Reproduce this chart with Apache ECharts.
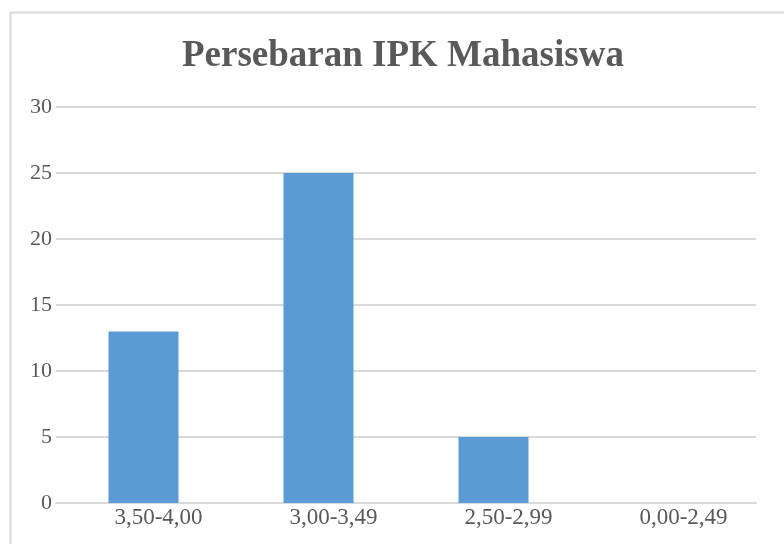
<!DOCTYPE html>
<html>
<head>
<meta charset="utf-8">
<script src="https://cdn.jsdelivr.net/npm/echarts@6/dist/echarts.min.js"></script>
<style>
  html, body { margin: 0; padding: 0; background: #fff; }
  #chart { width: 784px; height: 544px; }
</style>
</head>
<body>
<div id="chart"></div>
<script>
// kategori IPK dan jumlah mahasiswa
var categories = ['3,50-4,00', '3,00-3,49', '2,50-2,99', '0,00-2,49'];
var counts = [13, 25, 5, 0];
var yTicks = [0, 5, 10, 15, 20, 25, 30];

var chart = echarts.init(document.getElementById('chart'));

var serif = '"Liberation Serif", "Times New Roman", serif';

var option = {
	backgroundColor: '#fff',
	animation: false,
	title: {
		text: 'Persebaran IPK Mahasiswa',
		left: 177,
		top: 33,
		textStyle: {
			fontFamily: serif,
			fontWeight: 'bold',
			fontSize: 37,
			color: '#595959'
		}
	},
	graphic: [{
		// bingkai abu-abu di sekeliling chart
		type: 'rect',
		shape: { x: 10.5, y: 12.5, width: 900, height: 700 },
		style: { fill: 'none', stroke: '#d9d9d9', lineWidth: 2 }
	}],
	grid: {
		left: 56,
		right: 28,
		top: 107,
		bottom: 41
	},
	xAxis: {
		type: 'category',
		data: categories,
		axisTick: { show: false },
		axisLine: { lineStyle: { color: '#d9d9d9', width: 2 } },
		axisLabel: {
			fontFamily: serif,
			fontSize: 23,
			color: '#595959',
			margin: 3,
			padding: [0, 0, 0, 30]
		}
	},
	yAxis: {
		type: 'value',
		min: 0,
		max: 30,
		interval: 5,
		axisLine: { show: false },
		axisTick: { show: false },
		axisLabel: {
			fontFamily: serif,
			fontSize: 22,
			color: '#595959',
			margin: 4,
			formatter: function (v) { return yTicks.indexOf(v) >= 0 ? v : ''; }
		},
		splitLine: { lineStyle: { color: '#d9d9d9', width: 2 } }
	},
	series: [{
		type: 'bar',
		data: counts,
		barWidth: '40%',
		itemStyle: { color: '#5b9bd5' }
	}]
};

chart.setOption(option);
</script>
</body>
</html>
